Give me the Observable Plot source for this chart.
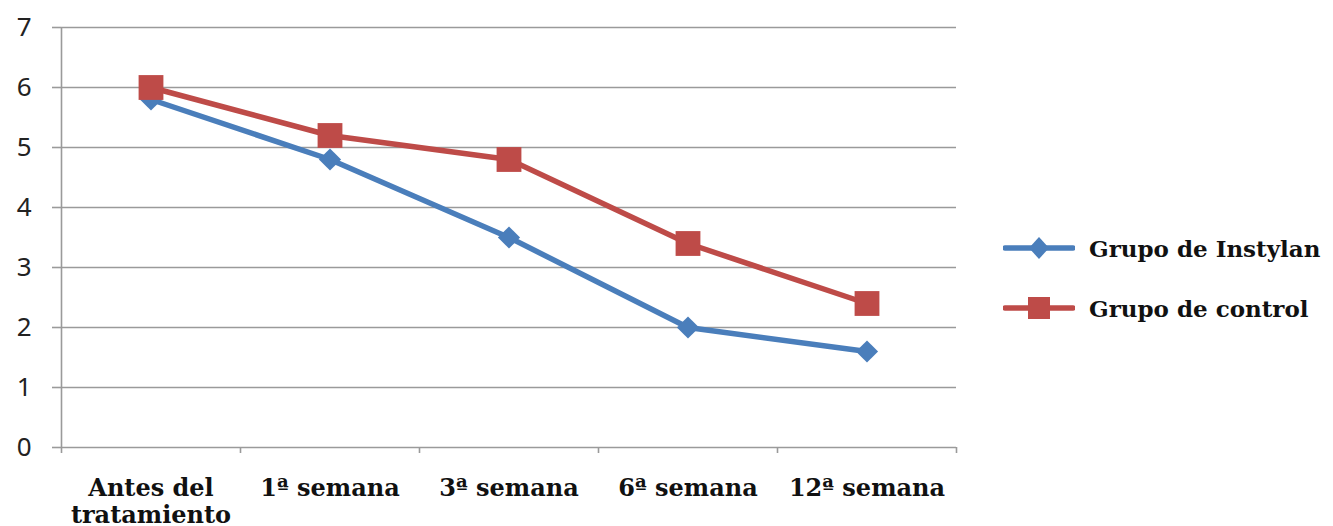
<!DOCTYPE html>
<html>
<head>
<meta charset="utf-8">
<script src="https://cdn.jsdelivr.net/npm/d3@7"></script>
<script src="https://cdn.jsdelivr.net/npm/@observablehq/plot@0.6"></script>
<style>
  body { margin: 0; background: #fff; }
  #wrap { position: relative; width: 1333px; height: 526px; overflow: hidden; }
  #legend { position: absolute; left: 1003px; top: 218px; font-family: "DejaVu Serif", serif; font-weight: bold; font-size: 23px; color: #111; white-space: nowrap; }
  .item { display: flex; align-items: center; height: 60px; }
  .item svg { margin-right: 14px; }
</style>
</head>
<body>
<div id="wrap"><div id="legend"></div></div>
<script>
const categories = ["Antes del\ntratamiento", "1ª semana", "3ª semana", "6ª semana", "12ª semana"];
const instylan = [5.8, 4.8, 3.5, 2.0, 1.6];
const control = [6.0, 5.2, 4.8, 3.4, 2.4];
const seriesNames = ["Grupo de Instylan", "Grupo de control"];
const yTicks = [0, 1, 2, 3, 4, 5, 6, 7];
const colors = ["#4a7ebb", "#be4b48"];

const idx = categories.map((_, i) => i);
const boundaries = d3.range(-0.5, categories.length, 1);
const dataI = idx.map(i => ({i, v: instylan[i], s: seriesNames[0]}));
const dataC = idx.map(i => ({i, v: control[i], s: seriesNames[1]}));

const chart = Plot.plot({
  width: 1333,
  height: 526,
  marginLeft: 61,
  marginRight: 377,
  marginTop: 27,
  marginBottom: 79,
  x: {type: "linear", domain: [-0.5, categories.length - 0.5]},
  y: {domain: [0, 7]},
  marks: [
    Plot.gridY(yTicks, {stroke: "#9a9a9a", strokeOpacity: 1, strokeWidth: 1.6}),
    Plot.ruleX([-0.5], {y1: 0, y2: 7, stroke: "#9a9a9a", strokeWidth: 1.6}),
    Plot.axisY({ticks: yTicks, tickSize: 9, tickPadding: 21, tickFormat: d3.format("d"), stroke: "#9a9a9a", strokeWidth: 1.6,
      fontSize: 26, fontFamily: "Noto Sans, sans-serif", fill: "#222", label: null}),
    Plot.axisX({ticks: boundaries, tickSize: 6, tickFormat: () => "", stroke: "#9a9a9a", strokeWidth: 1.6, label: null}),
    Plot.axisX({ticks: idx, tickSize: 0, tickPadding: 30, tickFormat: i => categories[i],
      fontSize: 24, fontWeight: "bold", fontFamily: "DejaVu Serif, serif", fill: "#111", label: null, lineHeight: 1.1}),
    Plot.line(dataI, {x: "i", y: "v", stroke: colors[0], strokeWidth: 5.5}),
    Plot.line(dataC, {x: "i", y: "v", stroke: colors[1], strokeWidth: 5.5}),
    Plot.dot(dataI, {x: "i", y: "v", symbol: "diamond2", r: 10, fill: colors[0]}),
    Plot.dot(dataC, {x: "i", y: "v", symbol: "square", r: 14, fill: colors[1]})
  ]
});
document.getElementById("wrap").prepend(chart);

const legend = document.getElementById("legend");
seriesNames.forEach((name, k) => {
  const item = document.createElement("div");
  item.className = "item";
  const marker = k === 0
    ? `<path d="M36,5 L46,16 L36,27 L26,16 Z" fill="${colors[0]}"/>`
    : `<rect x="25" y="5" width="22" height="22" fill="${colors[1]}"/>`;
  item.innerHTML = `<svg width="72" height="32"><line x1="2" x2="70" y1="16" y2="16" stroke="${colors[k]}" stroke-width="5.5" stroke-linecap="round"/>${marker}</svg><span>${name}</span>`;
  legend.appendChild(item);
});
</script>
</body>
</html>
